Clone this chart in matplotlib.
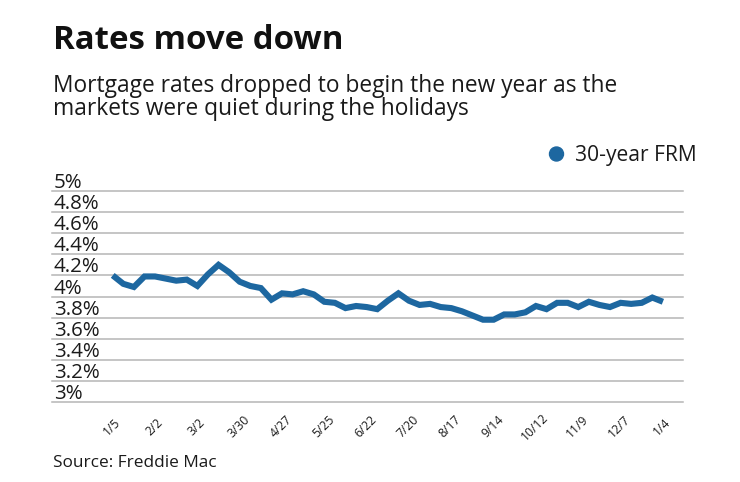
import matplotlib
matplotlib.use("Agg")
import matplotlib.pyplot as plt
import matplotlib.transforms as mtransforms
import matplotlib.patches as mpatches

# Data: Freddie Mac 30-year FRM weekly averages
weeks = ["1/5", "1/12", "1/19", "1/26", "2/2", "2/9", "2/16", "2/23",
         "3/2", "3/9", "3/16", "3/23", "3/30", "4/6", "4/13", "4/20",
         "4/27", "5/4", "5/11", "5/18", "5/25", "6/1", "6/8", "6/15",
         "6/22", "6/29", "7/6", "7/13", "7/20", "7/27", "8/3", "8/10",
         "8/17", "8/24", "8/31", "9/7", "9/14", "9/21", "9/28", "10/5",
         "10/12", "10/19", "10/26", "11/2", "11/9", "11/16", "11/22", "11/30",
         "12/7", "12/14", "12/21", "12/28", "1/4"]
rates = [4.20, 4.12, 4.09, 4.19, 4.19, 4.17, 4.15, 4.16,
         4.10, 4.21, 4.30, 4.23, 4.14, 4.10, 4.08, 3.97,
         4.03, 4.02, 4.05, 4.02, 3.95, 3.94, 3.89, 3.91,
         3.90, 3.88, 3.96, 4.03, 3.96, 3.92, 3.93, 3.90,
         3.89, 3.86, 3.82, 3.78, 3.78, 3.83, 3.83, 3.85,
         3.91, 3.88, 3.94, 3.94, 3.90, 3.95, 3.92, 3.90,
         3.94, 3.93, 3.94, 3.99, 3.95]
tick_labels = ["1/5", "2/2", "3/2", "3/30", "4/27", "5/25", "6/22",
               "7/20", "8/17", "9/14", "10/12", "11/9", "12/7", "1/4"]
y_ticks = [3.0, 3.2, 3.4, 3.6, 3.8, 4.0, 4.2, 4.4, 4.6, 4.8, 5.0]
y_labels = ["3%", "3.2%", "3.4%", "3.6%", "3.8%", "4%", "4.2%", "4.4%",
            "4.6%", "4.8%", "5%"]
series_name = "30-year FRM"
title = "Rates move down"
subtitle_1 = "Mortgage rates dropped to begin the new year as the"
subtitle_2 = "markets were quiet during the holidays"
source = "Source: Freddie Mac"

LINE_COLOR = "#1d67a0"
GRID_COLOR = "#b5b5b5"
TEXT_COLOR = "#1a1a1a"
FONT = ["Open Sans", "DejaVu Sans"]

W, H = 740, 482
fig = plt.figure(figsize=(W / 100, H / 100), dpi=100)
plt.rcParams['font.family'] = FONT
renderer = fig.canvas.get_renderer()


def fit_size(s, width_px, size=12, **kw):
    t = fig.text(0, 0, s, fontsize=size, **kw)
    w = t.get_window_extent(renderer=renderer).width
    t.remove()
    return size * width_px / w


def fit_text(xpx, ypx, s, width_px, size, **kw):
    color = kw.pop('color', TEXT_COLOR)
    fs = fit_size(s, width_px, size, **kw)
    return fig.text(xpx / W, 1 - ypx / H, s, fontsize=fs, ha='left',
                    va='baseline', color=color, **kw)


# axes box in pixel coordinates
ax_left, ax_right, ax_bottom, ax_top = 52, 683, 402, 191
ax = fig.add_axes([ax_left / W, 1 - ax_bottom / H,
                   (ax_right - ax_left) / W, (ax_bottom - ax_top) / H])

x = list(range(len(rates)))
ax.plot(x, rates, color=LINE_COLOR, lw=4.4, solid_joinstyle='miter',
        solid_capstyle='butt', zorder=3)

ax.set_xlim(-5.74, 53.9)
ax.set_ylim(3.0, 5.0)
for s in ax.spines.values():
    s.set_visible(False)
ax.set_xticks([])
ax.set_yticks([])

for yv in y_ticks:
    ax.axhline(yv, color=GRID_COLOR, lw=1.1, zorder=1, clip_on=False)

# y labels sitting above gridlines
ylab_fs = fit_size("4.8%", 46)
lab_trans = mtransforms.offset_copy(ax.get_yaxis_transform(), fig=fig,
                                    x=0, y=3, units='dots')
for yv, lab in zip(y_ticks, y_labels):
    ax.text(2 / (ax_right - ax_left), yv, lab, transform=lab_trans,
            ha='left', va='baseline', fontsize=ylab_fs, color=TEXT_COLOR)

# x tick labels rotated
xtick_fs = fit_size("10/12", 32)
xlab_trans = mtransforms.offset_copy(ax.get_xaxis_transform(), fig=fig,
                                     x=-1, y=-25, units='dots')
for i, lab in enumerate(tick_labels):
    idx = i * 4
    ax.text(idx, 0, lab, transform=xlab_trans, rotation=45,
            rotation_mode='anchor', ha='center', va='center',
            fontsize=xtick_fs, color=TEXT_COLOR)

# titles
fit_text(53, 49, title, 290, 24, fontweight='bold', color='#111111')
sub_fs = fit_size(subtitle_1, 564, 15)
fig.text(53 / W, 1 - 92 / H, subtitle_1, fontsize=sub_fs, ha='left',
         va='baseline', color=TEXT_COLOR)
fig.text(53 / W, 1 - 115 / H, subtitle_2, fontsize=sub_fs, ha='left',
         va='baseline', color=TEXT_COLOR)

# legend
fig.patches.append(mpatches.Ellipse((556.5 / W, 1 - 154 / H), 14 / W, 14 / H,
                                    transform=fig.transFigure,
                                    color=LINE_COLOR))
fit_text(575, 161, series_name, 122, 14)

fit_text(53, 467, source, 162, 12)

fig.savefig("out.png", dpi=100)
